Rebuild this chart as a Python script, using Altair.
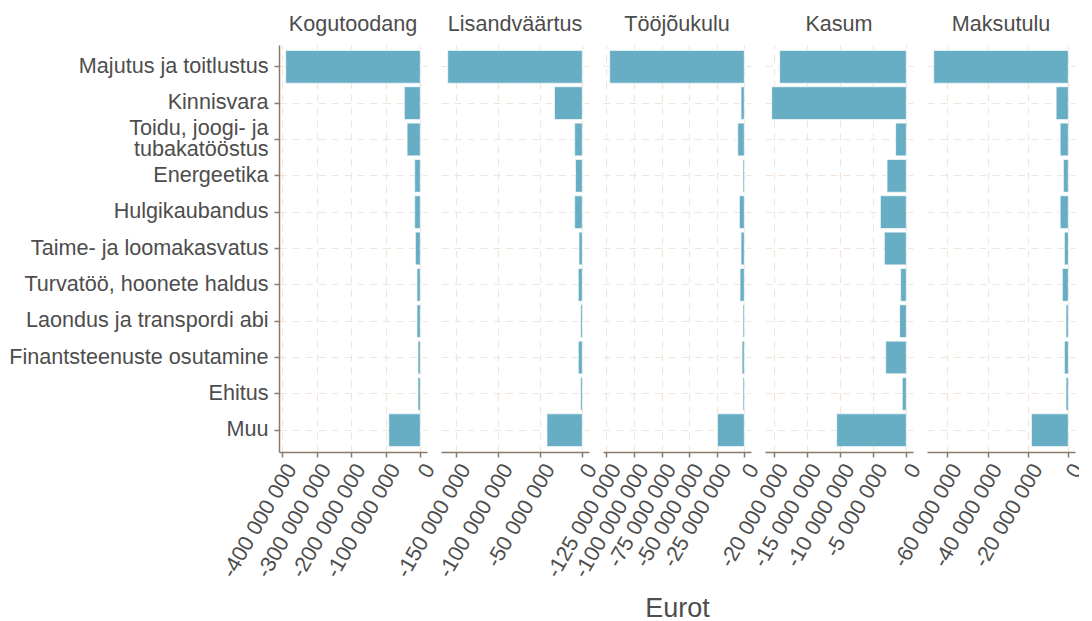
import altair as alt
import pandas as pd

categories = [
    "Majutus ja toitlustus",
    "Kinnisvara",
    "Toidu, joogi- ja\ntubakatööstus",
    "Energeetika",
    "Hulgikaubandus",
    "Taime- ja loomakasvatus",
    "Turvatöö, hoonete haldus",
    "Laondus ja transpordi abi",
    "Finantsteenuste osutamine",
    "Ehitus",
    "Muu",
]

panels = ["Kogutoodang", "Lisandväärtus", "Tööjõukulu", "Kasum", "Maksutulu"]

kogutoodang = [-389e6, -46e6, -38e6, -16e6, -16e6, -14e6, -9.4e6, -9.4e6, -6.6e6, -6.6e6, -91e6]
lisandvaartus = [-160e6, -33e6, -9e6, -8e6, -9e6, -3.9e6, -4.7e6, -2e6, -4.7e6, -2e6, -42e6]
toojoukulu = [-122e6, -2.9e6, -5.9e6, -1.2e6, -4.4e6, -2.9e6, -3.8e6, -1.2e6, -2e6, -1.2e6, -24.3e6]
kasum = [-19.1e6, -20.3e6, -1.6e6, -2.9e6, -3.9e6, -3.3e6, -0.85e6, -1.0e6, -3.1e6, -0.6e6, -10.5e6]
maksutulu = [-66.7e6, -6e6, -4e6, -2.4e6, -4e6, -1.9e6, -2.9e6, -1.1e6, -1.9e6, -1.1e6, -18.2e6]

series = [kogutoodang, lisandvaartus, toojoukulu, kasum, maksutulu]

tick_values = [
    [-400e6, -300e6, -200e6, -100e6, 0],
    [-150e6, -100e6, -50e6, 0],
    [-125e6, -100e6, -75e6, -50e6, -25e6, 0],
    [-20e6, -15e6, -10e6, -5e6, 0],
    [-60e6, -40e6, -20e6, 0],
]

FONT = "Liberation Sans"
TEXT = "#4d4d4d"
AXIS = "#8c7a68"
GRID = "#f1e4da"
BAR = "#67adc4"
FS = 21.6

label_expr = "replace(replace(format(datum.value, ','), regexp(',', 'g'), ' '), '\u2212', '-')"

charts = []
for i, (name, vals, ticks) in enumerate(zip(panels, series, tick_values)):
    df = pd.DataFrame({"kategooria": categories, "vaartus": vals})
    lo = min(vals)
    rng = 0 - lo
    domain = [lo - 0.05 * rng, 0.05 * rng]
    if i == 0:
        yaxis = alt.Axis(
            title=None, labelFontSize=FS, labelColor=TEXT, labelFont=FONT,
            domain=True, domainColor=AXIS, domainWidth=1.5,
            ticks=True, tickColor=AXIS, tickSize=5, tickWidth=1.5,
            grid=True, gridColor=GRID, gridDash=[7, 6], gridWidth=1.2,
            labelExpr="split(datum.label, '\\n')", labelLineHeight=21,
            labelOffset=alt.condition("indexof(datum.value, 'tubakat') >= 0",
                                      alt.value(-10.5), alt.value(0)),
            labelPadding=6, labelLimit=400,
        )
    else:
        yaxis = alt.Axis(
            title=None, labels=False, ticks=False, domain=False,
            grid=True, gridColor=GRID, gridDash=[7, 6], gridWidth=1.2,
        )
    xaxis = alt.Axis(
        title="Eurot" if i == 2 else None,
        titleFontSize=27, titleFontWeight="normal", titleColor=TEXT, titleFont=FONT,
        titlePadding=14,
        values=ticks, labelExpr=label_expr,
        labelAngle=300, labelAlign="right", labelBaseline="top",
        labelFontSize=FS, labelColor=TEXT, labelFont=FONT, labelPadding=3,
        labelOverlap=False, labelFlush=False,
        domain=True, domainColor=AXIS, domainWidth=1.5,
        ticks=True, tickColor=AXIS, tickSize=5, tickWidth=1.5,
        grid=True, gridColor=GRID, gridDash=[7, 6], gridWidth=1.2,
    )
    c = (
        alt.Chart(df)
        .mark_bar(color=BAR, stroke="white", strokeWidth=0.6)
        .encode(
            x=alt.X("vaartus:Q", scale=alt.Scale(domain=domain, nice=False, zero=False), axis=xaxis),
            y=alt.Y("kategooria:N", sort=categories,
                    scale=alt.Scale(paddingInner=0.1, paddingOuter=0.15), axis=yaxis),
        )
        .properties(
            width=148, height=407,
            title=alt.TitleParams(name, fontSize=FS, fontWeight="normal", color=TEXT,
                                  font=FONT, anchor="middle", offset=9),
        )
    )
    charts.append(c)

chart = (
    alt.hconcat(*charts, spacing=14, bounds="flush")
    .properties(padding={"left": 0, "top": 6, "right": -8, "bottom": 0})
    .configure(font=FONT, background="white")
    .configure_view(strokeWidth=0, stroke=None)
)

chart.save("out.html", embed_options={"renderer": "svg", "actions": False})
